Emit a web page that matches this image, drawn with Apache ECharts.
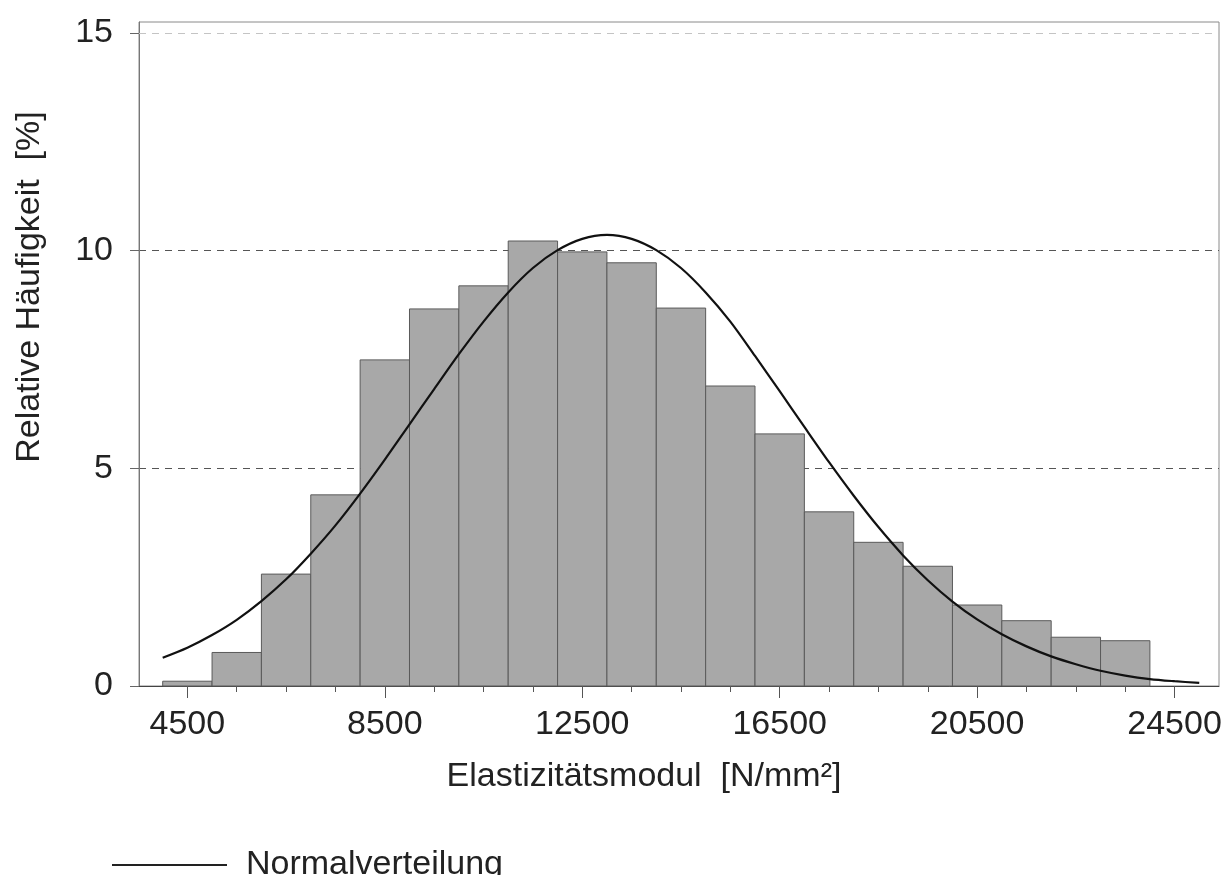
<!DOCTYPE html>
<html>
<head>
<meta charset="utf-8">
<script src="https://cdn.jsdelivr.net/npm/echarts@6/dist/echarts.min.js"></script>
<style>
html,body{margin:0;padding:0;background:#fff;}
#chart{width:1226px;height:875px;}
</style>
</head>
<body>
<div id="chart"></div>
<script>
// ---- data ----
const binStarts = [4000,5000,6000,7000,8000,9000,10000,11000,12000,13000,14000,15000,16000,17000,18000,19000,20000,21000,22000,23000];
const binWidth = 1000;
const binValues = [0.11,0.77,2.57,4.39,7.49,8.66,9.19,10.22,9.97,9.72,8.68,6.89,5.79,4.00,3.30,2.75,1.86,1.50,1.12,1.04];

const curveX = [4000,4500,5000,5500,6000,6500,7000,7500,8000,8500,9000,9500,10000,10500,11000,11500,12000,12500,13000,13500,14000,14500,15000,15500,16000,16500,17000,17500,18000,18500,19000,19500,20000,20500,21000,21500,22000,22500,23000,23500,24000,24500,25000];
const curveY = [0.65,0.88,1.17,1.52,1.95,2.45,3.04,3.69,4.42,5.20,6.01,6.82,7.62,8.37,9.04,9.60,10.01,10.27,10.36,10.27,10.01,9.60,9.04,8.37,7.58,6.77,5.95,5.14,4.37,3.65,3.00,2.43,1.94,1.53,1.19,0.91,0.68,0.50,0.35,0.24,0.16,0.11,0.07];

const xMajorTicks = [4500,8500,12500,16500,20500,24500];
const xMinorTicks = [4500,5500,6500,7500,8500,9500,10500,11500,12500,13500,14500,15500,16500,17500,18500,19500,20500,21500,22500,23500,24500];
const yTicks = [0,5,10,15];
const yTopGridLine = 15;

const seriesName = 'Normalverteilung';
const xTitle = 'Elastizitätsmodul  [N/mm²]';
const yTitle = 'Relative Häufigkeit  [%]';

// ---- build ----
const histData = binStarts.map((s, i) => [s, s + binWidth, binValues[i]]);
const curveData = curveX.map((x, i) => [x, curveY[i]]);

const FONT = "'Liberation Sans', Arial, sans-serif";
const FS = 34;
const chart = echarts.init(document.getElementById('chart'), null, {renderer: 'canvas'});

chart.setOption({
  animation: false,
  backgroundColor: '#ffffff',
  textStyle: {fontFamily: FONT},
  grid: {left: 139, right: 7, top: 22, bottom: 189, show: true, borderColor: '#8a8a8a', borderWidth: 1, containLabel: false},
  legend: {
    data: [seriesName],
    left: 107, top: 842,
    icon: 'rect',
    itemWidth: 115, itemHeight: 2,
    itemStyle: {color: '#222'},
    textStyle: {fontFamily: FONT, fontSize: FS, color: '#222', padding: [0,0,0,14], lineHeight: 36}
  },
  xAxis: [{
    type: 'value', min: 3520, max: 25400,
    position: 'bottom',
    name: xTitle, nameLocation: 'middle', nameGap: 74,
    nameTextStyle: {fontFamily: FONT, fontSize: FS, color: '#222', padding: [0,70,0,0]},
    axisLine: {show: true, lineStyle: {color: '#444', width: 1}},
    axisTick: {show: true, customValues: xMajorTicks, length: 12, lineStyle: {color: '#555'}},
    axisLabel: {customValues: xMajorTicks, fontFamily: FONT, fontSize: FS, color: '#222', margin: 22,
      formatter: function (v) { return String(v); }},
    splitLine: {show: false}
  }, {
    type: 'value', min: 3520, max: 25400,
    position: 'bottom', offset: 0,
    axisLine: {show: false},
    axisTick: {show: true, customValues: xMinorTicks, length: 6, lineStyle: {color: '#555'}},
    axisLabel: {show: false},
    splitLine: {show: false}
  }],
  yAxis: {
    type: 'value', min: 0, max: 15.25, interval: 5,
    name: yTitle, nameLocation: 'middle', nameGap: 92,
    nameTextStyle: {fontFamily: FONT, fontSize: FS, color: '#222', padding: [0,0,0,134]},
    axisLine: {show: true, lineStyle: {color: '#777', width: 1}},
    axisTick: {show: true, customValues: yTicks, length: 9, lineStyle: {color: '#666'}},
    axisLabel: {customValues: yTicks, fontFamily: FONT, fontSize: FS, color: '#222', margin: 26,
      formatter: function (v) { return String(v); }},
    splitLine: {show: true, showMinLine: false, showMaxLine: false,
      lineStyle: {color: '#555', type: [7,6], width: 1}}
  },
  series: [{
    type: 'custom',
    name: 'Histogramm',
    xAxisIndex: 0,
    data: histData,
    encode: {x: [0,1], y: 2},
    renderItem: function (params, api) {
      const p0 = api.coord([api.value(0), api.value(2)]);
      const p1 = api.coord([api.value(1), 0]);
      return {
        type: 'rect',
        shape: {x: p0[0], y: p0[1], width: p1[0] - p0[0], height: p1[1] - p0[1]},
        style: {fill: '#a8a8a8', stroke: '#5a5a5a', lineWidth: 1}
      };
    },
    z: 2
  }, {
    type: 'line',
    name: seriesName,
    xAxisIndex: 0,
    data: curveData,
    smooth: 0.3,
    symbol: 'none',
    showSymbol: false,
    lineStyle: {color: '#111', width: 2.2},
    itemStyle: {color: '#111'},
    markLine: {
      silent: true,
      symbol: 'none',
      label: {show: false},
      lineStyle: {color: '#c4c4c4', type: [7,6], width: 1},
      data: [{yAxis: yTopGridLine}]
    },
    z: 5
  }]
});
</script>
</body>
</html>
